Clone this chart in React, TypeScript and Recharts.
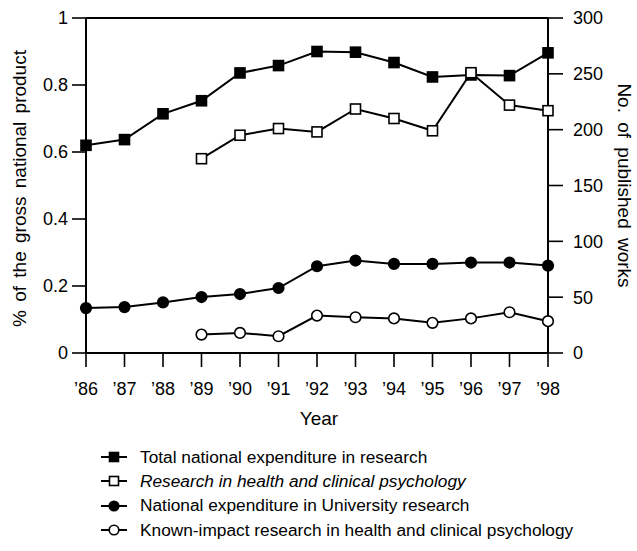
import React from "react";
import {
  LineChart,
  Line,
  XAxis,
  YAxis,
  Legend,
  ReferenceLine,
} from "recharts";

const years = ["’86", "’87", "’88", "’89", "’90", "’91", "’92", "’93", "’94", "’95", "’96", "’97", "’98"];

// left axis: % of the gross national product
const totalGnp = [0.62, 0.637, 0.714, 0.753, 0.836, 0.858, 0.9, 0.898, 0.867, 0.824, 0.83, 0.828, 0.896];
const universityGnp = [0.134, 0.137, 0.151, 0.167, 0.176, 0.194, 0.259, 0.276, 0.266, 0.266, 0.27, 0.27, 0.261];

// right axis: no. of published works
const healthWorks = [null, null, null, 174, 195, 201, 198, 218.5, 210, 199, 251, 222, 217];
const knownImpactWorks = [null, null, null, 16.5, 18, 15, 33.5, 32, 31, 27, 31, 36.5, 28.5];

const leftTicks = [0, 0.2, 0.4, 0.6, 0.8, 1];
const rightTicks = [0, 50, 100, 150, 200, 250, 300];

const legendLabels = [
  "Total national expenditure in research",
  "Research in health and clinical psychology",
  "National expenditure in University research",
  "Known-impact research in health and clinical psychology",
];

const data = years.map((year, i) => ({
  year,
  totalGnp: totalGnp[i],
  healthWorks: healthWorks[i],
  universityGnp: universityGnp[i],
  knownImpactWorks: knownImpactWorks[i],
}));

const FONT = "'Liberation Sans', Arial, sans-serif";
const INK = "#000";

type Shape = "square" | "openSquare" | "circle" | "openCircle";

function marker(shape: Shape, cx: number, cy: number, size = 10, key?: string) {
  const h = size / 2;
  if (shape === "square" || shape === "openSquare") {
    return (
      <rect
        key={key}
        x={cx - h}
        y={cy - h}
        width={size}
        height={size}
        fill={shape === "square" ? INK : "#fff"}
        stroke={INK}
        strokeWidth={1.6}
      />
    );
  }
  return (
    <circle
      key={key}
      cx={cx}
      cy={cy}
      r={h + 0.3}
      fill={shape === "circle" ? INK : "#fff"}
      stroke={INK}
      strokeWidth={1.6}
    />
  );
}

const dotFor = (shape: Shape) => (props: any) => {
  const { cx, cy, index } = props;
  if (cx == null || cy == null || props.value == null) return <g key={`${shape}-${index}`} />;
  return marker(shape, cx, cy, 10, `${shape}-${index}`);
};

const series: { key: string; axis: string; shape: Shape; italic: boolean }[] = [
  { key: "totalGnp", axis: "left", shape: "square", italic: false },
  { key: "healthWorks", axis: "right", shape: "openSquare", italic: true },
  { key: "universityGnp", axis: "left", shape: "circle", italic: false },
  { key: "knownImpactWorks", axis: "right", shape: "openCircle", italic: false },
];

const LegendBox = () => (
  <div style={{ fontFamily: FONT, fontSize: 17.3, color: INK }}>
    {series.map((s, i) => (
      <div key={s.key} style={{ display: "flex", alignItems: "center", height: 24.3 }}>
        <svg width={40} height={16}>
          <line x1={1} y1={8} x2={27} y2={8} stroke={INK} strokeWidth={2} />
          {marker(s.shape, 14, 8, 9)}
        </svg>
        <span style={{ fontStyle: s.italic ? "italic" : "normal", whiteSpace: "nowrap" }}>
          {legendLabels[i]}
        </span>
      </div>
    ))}
  </div>
);

const leftTitle = (props: any) => {
  const vb = props.viewBox || { x: 0, y: 18, width: 86, height: 335 };
  const x = vb.x + 19;
  const y = vb.y + vb.height / 2 + 3;
  return (
    <text
      x={x}
      y={y}
      transform={`rotate(-90 ${x} ${y})`}
      textAnchor="middle"
      dominantBaseline="central"
      fontSize={19}
      fontFamily={FONT}
      style={{ wordSpacing: 3 }}
      fill={INK}
    >
      % of the gross national product
    </text>
  );
};

const rightTitle = (props: any) => {
  const vb = props.viewBox || { x: 548, y: 18, width: 89, height: 335 };
  const x = vb.x + 76;
  const y = vb.y + vb.height / 2;
  return (
    <text
      x={x}
      y={y}
      transform={`rotate(90 ${x} ${y})`}
      textAnchor="middle"
      dominantBaseline="central"
      fontSize={19}
      fontFamily={FONT}
      style={{ wordSpacing: 4 }}
      fill={INK}
    >
      No. of published works
    </text>
  );
};

const bottomTitle = (props: any) => {
  const vb = props.viewBox || { x: 86, y: 353, width: 462, height: 74 };
  return (
    <text
      x={vb.x + vb.width / 2 + 2}
      y={vb.y + 72}
      textAnchor="middle"
      fontSize={19}
      fontFamily={FONT}
      fill={INK}
    >
      Year
    </text>
  );
};

const tickStyle = { fill: INK, fontSize: 18, fontFamily: FONT };
const axisLine = { stroke: INK, strokeWidth: 2 };
const tickLine = { stroke: INK, strokeWidth: 1.6 };

export default function App() {
  return (
    <div style={{ position: "absolute", left: 0, top: 0, background: "#fff" }}>
      <LineChart
        width={637}
        height={551}
        data={data}
        margin={{ top: 18, right: 0, bottom: 124, left: 0 }}
        style={{ fontFamily: FONT }}
      >
        <XAxis
          dataKey="year"
          height={74}
          tick={tickStyle}
          tickSize={14}
          tickMargin={15}
          axisLine={axisLine}
          tickLine={tickLine}
          interval={0}
          label={bottomTitle}
        />
        <YAxis
          yAxisId="left"
          width={86}
          domain={[0, 1]}
          ticks={leftTicks}
          tickFormatter={(v: number) => String(v)}
          tick={tickStyle}
          tickSize={14}
          tickMargin={4}
          axisLine={axisLine}
          tickLine={tickLine}
          label={leftTitle}
        />
        <YAxis
          yAxisId="right"
          orientation="right"
          width={89}
          domain={[0, 300]}
          ticks={rightTicks}
          tick={tickStyle}
          tickSize={15}
          tickMargin={10}
          axisLine={axisLine}
          tickLine={tickLine}
          label={rightTitle}
        />
        <ReferenceLine yAxisId="left" y={1} stroke={INK} strokeWidth={2} />
        <Legend
          layout="horizontal"
          verticalAlign="middle"
          align="center"
          content={LegendBox}
          wrapperStyle={{ left: 100, top: 445, width: "auto", height: "auto" }}
        />
        {series.map((s) => (
          <Line
            key={s.key}
            yAxisId={s.axis}
            dataKey={s.key}
            type="linear"
            stroke={INK}
            strokeWidth={2}
            dot={dotFor(s.shape)}
            activeDot={false}
            isAnimationActive={false}
            legendType="none"
          />
        ))}
      </LineChart>
    </div>
  );
}
